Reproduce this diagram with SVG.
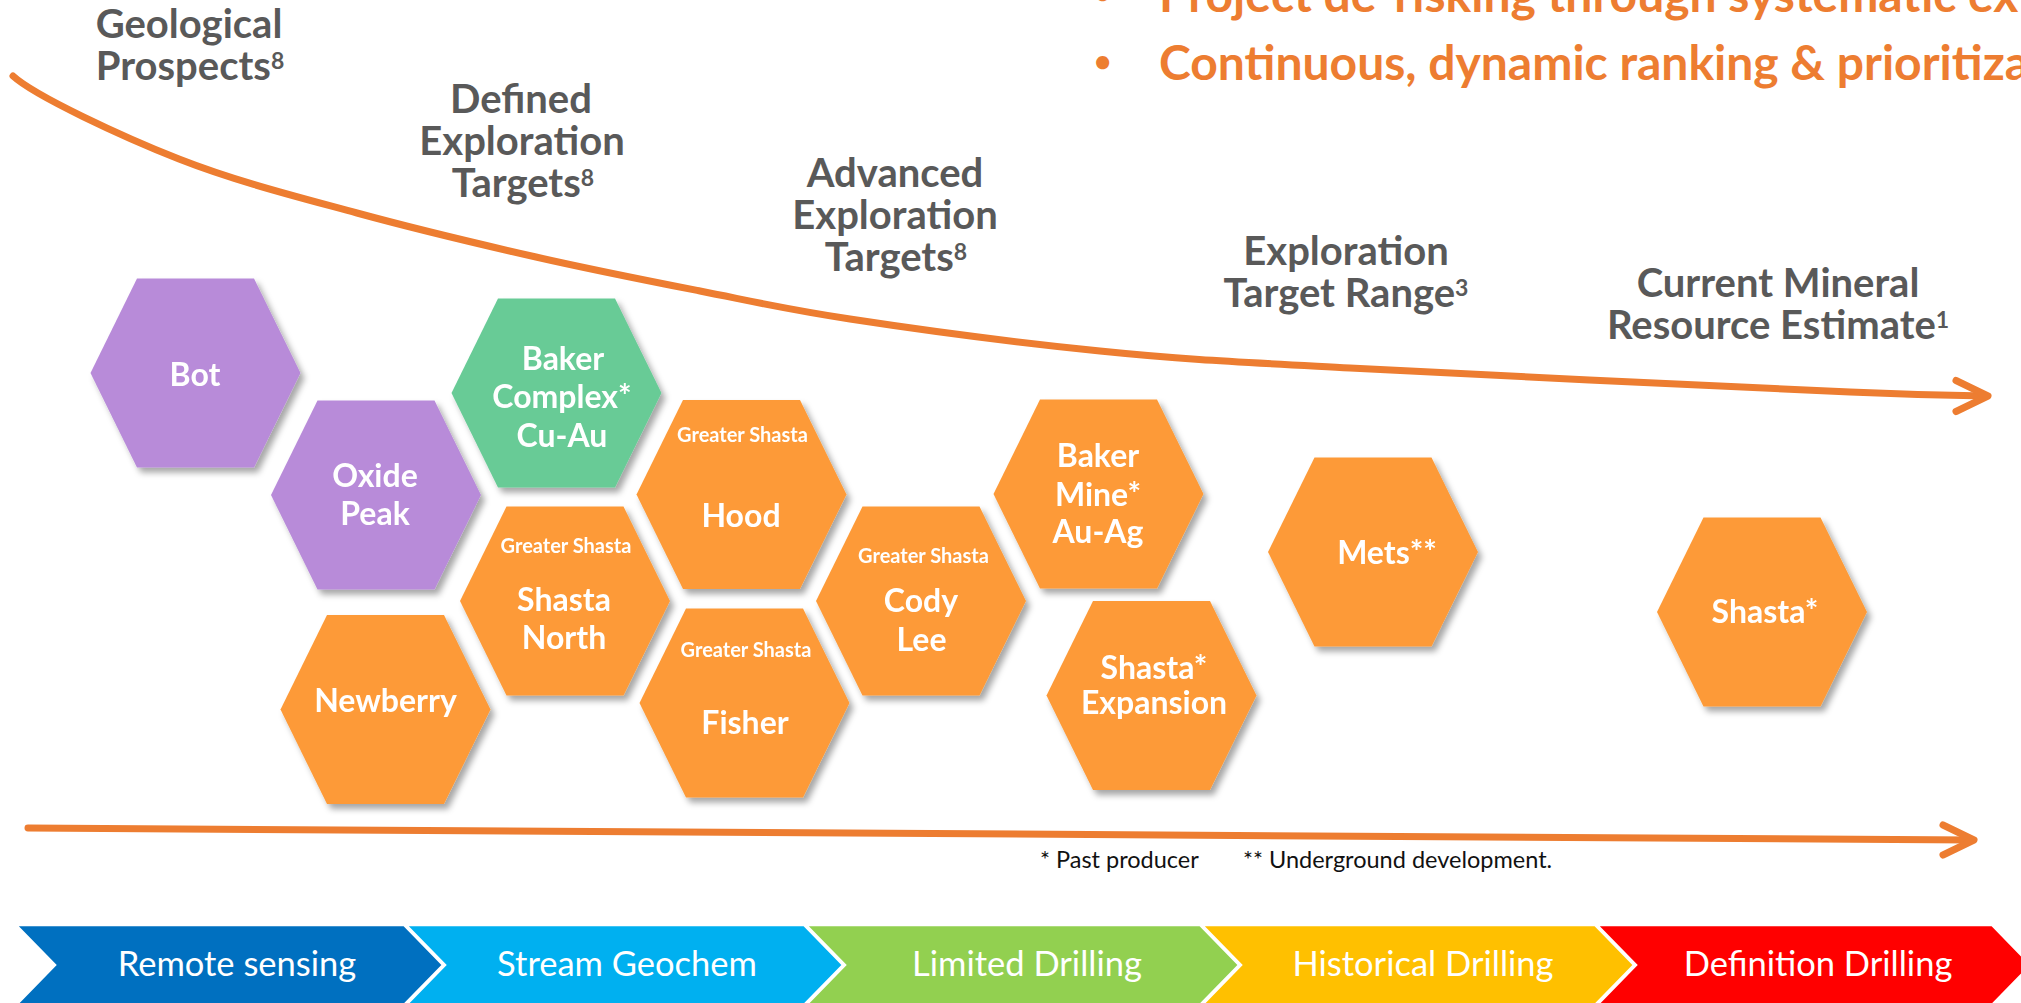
<svg xmlns="http://www.w3.org/2000/svg" xmlns:xlink="http://www.w3.org/1999/xlink" width="2021" height="1003" viewBox="0 0 2021 1003">
<defs>
<style>
.hd{font-family:Lato,'Liberation Sans',sans-serif;font-weight:700;fill:#595959;font-size:40px;text-anchor:middle}
.sup{font-size:23px}
.bl{font-family:Lato,'Liberation Sans',sans-serif;font-weight:700;fill:#ED7D31;font-size:48px}
.bu{font-family:Lato,'Liberation Sans',sans-serif;font-weight:700;fill:#ED7D31;font-size:30px}
.lb{font-family:Lato,'Liberation Sans',sans-serif;font-weight:700;fill:#FFFFFF;font-size:32px;text-anchor:middle}
.gs{font-size:20px}
.pu{fill:#B88BD9}
.gr{fill:#67CB96}
.or{fill:#FD9A37}
.band text{font-family:Lato,'Liberation Sans',sans-serif;font-weight:400;fill:#FFFFFF;font-size:34.5px;text-anchor:middle}
.band polygon{stroke:#FFFFFF;stroke-width:2.5}
.ln{fill:none;stroke:#ED7D31;stroke-width:7;stroke-linecap:round;stroke-linejoin:round}
.fn{font-family:Lato,'Liberation Sans',sans-serif;font-weight:400;fill:#111111;font-size:23.5px}
</style>
<path id="hex" d="M-58.5,-94.5 L58.5,-94.5 L105,0 L58.5,94.5 L-58.5,94.5 L-105,0 Z"/>
<filter id="sh" x="-20%" y="-20%" width="150%" height="150%">
<feDropShadow dx="4" dy="5" stdDeviation="3" flood-color="#000000" flood-opacity="0.35"/>
</filter>
</defs>
<rect width="2021" height="1003" fill="#FFFFFF"/>

<g id="bullets">
<text class="bu" x="1094" y="4">•</text>
<text class="bl" x="1159" y="12">Project de-risking through systematic ex</text>
<text class="bu" x="1094" y="72">•</text>
<text class="bl" x="1159" y="80">Continuous, dynamic ranking &amp; prioritiza</text>
</g>

<g id="headers">
<text class="hd" x="189" y="38">Geological</text>
<text class="hd" x="190" y="80">Prospects<tspan class="sup" dy="-11">8</tspan></text>
<text class="hd" x="521" y="113">Defined</text>
<text class="hd" x="522" y="155">Exploration</text>
<text class="hd" x="523" y="197">Targets<tspan class="sup" dy="-11">8</tspan></text>
<text class="hd" x="895" y="187">Advanced</text>
<text class="hd" x="895" y="229">Exploration</text>
<text class="hd" x="896" y="271">Targets<tspan class="sup" dy="-11">8</tspan></text>
<text class="hd" x="1346" y="265">Exploration</text>
<text class="hd" x="1346" y="307">Target Range<tspan class="sup" dy="-11">3</tspan></text>
<text class="hd" x="1778" y="297">Current Mineral</text>
<text class="hd" x="1778" y="339">Resource Estimate<tspan class="sup" dy="-11">1</tspan></text>
</g>

<g id="connectors">
<path class="ln" d="M13,76 C35,96 122,136.5 179,159 C236.3,181.5 297.5,196.8 357,213 C416.5,229.2 478.8,244 536,257 C593.2,270 647.7,280.7 700,291 C752.3,301.3 783.3,308.8 850,319 C916.7,329.2 1016.7,342.5 1100,351 C1183.3,359.5 1225,361.3 1350,368 C1475,374.7 1744,387.3 1850,392 C1895,394 1950,395.5 1986,396"/>
<path class="ln" d="M1956,380.5 L1988,396 L1956,411.5"/>
<path class="ln" d="M28,828 L1972,840"/>
<path class="ln" d="M1943,825 L1974,840 L1943,855"/>
</g>

<g id="node-bot" filter="url(#sh)">
<use xlink:href="#hex" href="#hex" class="pu" x="195.5" y="373"/>
<text class="lb" x="195" y="386">Bot</text>
</g>
<g id="node-oxide-peak" filter="url(#sh)">
<use xlink:href="#hex" href="#hex" class="pu" x="376" y="495"/>
<text class="lb" x="375" y="487">Oxide</text>
<text class="lb" x="375" y="525">Peak</text>
</g>
<g id="node-baker-complex" filter="url(#sh)">
<use xlink:href="#hex" href="#hex" class="gr" x="556.5" y="393"/>
<text class="lb" x="563" y="370">Baker</text>
<text class="lb" x="562" y="408">Complex*</text>
<text class="lb" x="562" y="447">Cu-Au</text>
</g>
<g id="node-shasta-north" filter="url(#sh)">
<use xlink:href="#hex" href="#hex" class="or" x="565" y="601"/>
<text class="lb gs" x="566" y="553">Greater Shasta</text>
<text class="lb" x="564" y="611">Shasta</text>
<text class="lb" x="564" y="649">North</text>
</g>
<g id="node-newberry" filter="url(#sh)">
<use xlink:href="#hex" href="#hex" class="or" x="385.5" y="709.5"/>
<text class="lb" x="385.5" y="712">Newberry</text>
</g>
<g id="node-hood" filter="url(#sh)">
<use xlink:href="#hex" href="#hex" class="or" x="741.5" y="494.5"/>
<text class="lb gs" x="742.5" y="442">Greater Shasta</text>
<text class="lb" x="741" y="527">Hood</text>
</g>
<g id="node-fisher" filter="url(#sh)">
<use xlink:href="#hex" href="#hex" class="or" x="744.5" y="703"/>
<text class="lb gs" x="746" y="657">Greater Shasta</text>
<text class="lb" x="745" y="734">Fisher</text>
</g>
<g id="node-cody-lee" filter="url(#sh)">
<use xlink:href="#hex" href="#hex" class="or" x="921" y="601"/>
<text class="lb gs" x="923.5" y="563">Greater Shasta</text>
<text class="lb" x="921" y="612">Cody</text>
<text class="lb" x="921.5" y="651">Lee</text>
</g>
<g id="node-baker-mine" filter="url(#sh)">
<use xlink:href="#hex" href="#hex" class="or" x="1098.5" y="494"/>
<text class="lb" x="1098" y="467">Baker</text>
<text class="lb" x="1098" y="506">Mine*</text>
<text class="lb" x="1098" y="543">Au-Ag</text>
</g>
<g id="node-shasta-expansion" filter="url(#sh)">
<use xlink:href="#hex" href="#hex" class="or" x="1151.5" y="695.5"/>
<text class="lb" x="1154" y="679">Shasta*</text>
<text class="lb" x="1154" y="714">Expansion</text>
</g>
<g id="node-mets" filter="url(#sh)">
<use xlink:href="#hex" href="#hex" class="or" x="1373" y="552"/>
<text class="lb" x="1387" y="564">Mets**</text>
</g>
<g id="node-shasta" filter="url(#sh)">
<use xlink:href="#hex" href="#hex" class="or" x="1762" y="612"/>
<text class="lb" x="1765" y="623">Shasta*</text>
</g>

<g id="footnote">
<text class="fn" x="1040" y="868">* Past producer</text>
<text class="fn" x="1243" y="868">** Underground development.</text>
</g>

<g id="band" class="band">
<g id="stage-remote-sensing">
<polygon points="16,925 404,925 443,965 404,1005 16,1005 55,965" fill="#0070C0"/>
<text x="237" y="976">Remote sensing</text>
</g>
<g id="stage-stream-geochem">
<polygon points="406,925 804,925 843,965 804,1005 406,1005 445,965" fill="#00B0F0"/>
<text x="627" y="976">Stream Geochem</text>
</g>
<g id="stage-limited-drilling">
<polygon points="806,925 1200,925 1239,965 1200,1005 806,1005 845,965" fill="#92D050"/>
<text x="1027" y="976">Limited Drilling</text>
</g>
<g id="stage-historical-drilling">
<polygon points="1202,925 1595,925 1634,965 1595,1005 1202,1005 1241,965" fill="#FFC000"/>
<text x="1423" y="976">Historical Drilling</text>
</g>
<g id="stage-definition-drilling">
<polygon points="1597,925 1992,925 2031,965 1992,1005 1597,1005 1636,965" fill="#FF0000"/>
<text x="1818" y="976">Definition Drilling</text>
</g>
</g>
</svg>
